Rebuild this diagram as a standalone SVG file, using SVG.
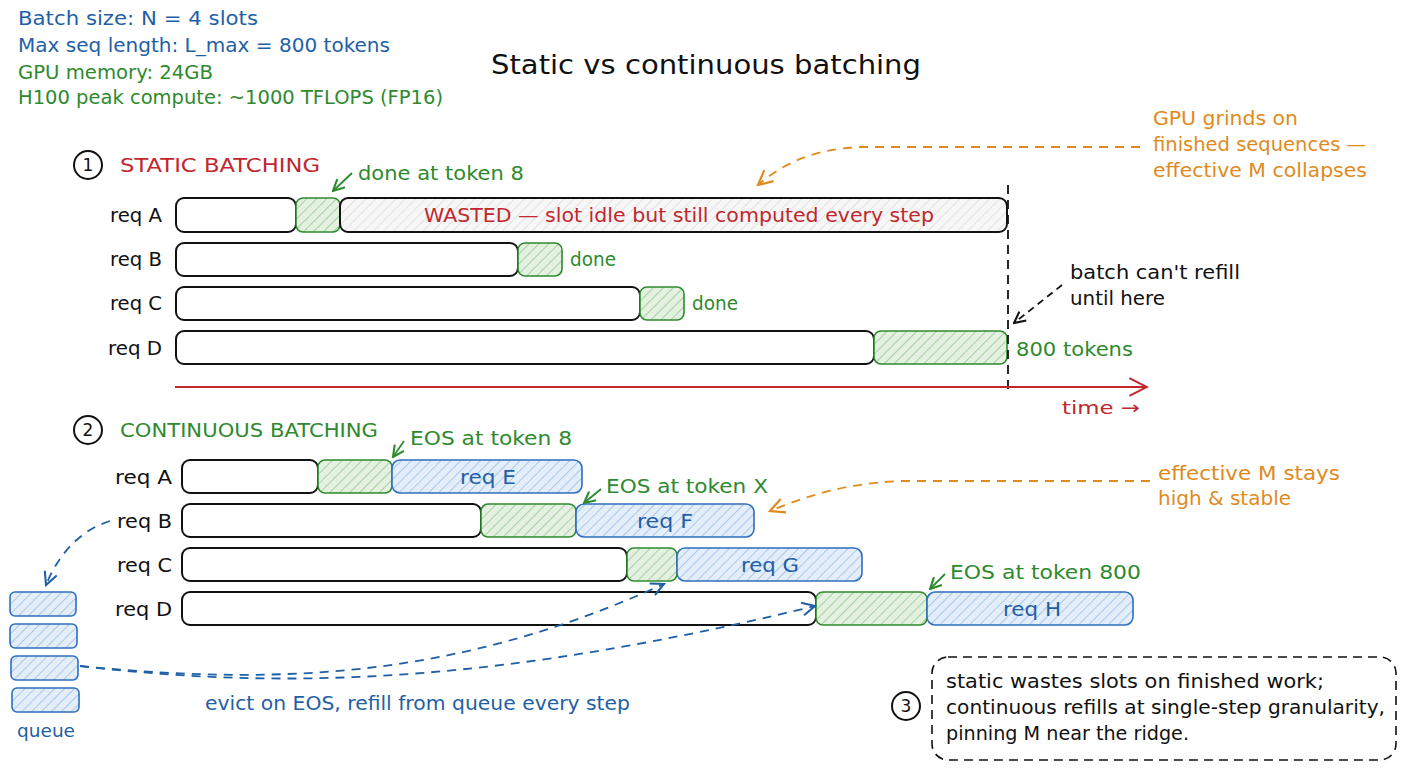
<svg xmlns="http://www.w3.org/2000/svg" width="1408" height="768" viewBox="0 0 1408 768">
<style>
text{font-family:"DejaVu Sans","Liberation Sans",Arial,sans-serif;font-size:19px;}
.blue{fill:#1f5fa6}.green{fill:#2e8a2e}.red{fill:#c0282d}.orange{fill:#e08a1e}.black{fill:#111}
.bar{fill:#fff;stroke:#111;stroke-width:2}
.gbar{fill:url(#hg);stroke:#2e8a2e;stroke-width:1.6}
.wbar{fill:url(#hw);stroke:#111;stroke-width:2}
.bbar{fill:url(#hb);stroke:#2f6fbf;stroke-width:1.6}
.num{fill:none;stroke:#111;stroke-width:2}
.c-black{fill:none;stroke:#111;stroke-width:1.8}
.c-green{fill:none;stroke:#2e8a2e;stroke-width:1.8}
.c-orange{fill:none;stroke:#e08a1e;stroke-width:1.8;stroke-dasharray:9 7}
.c-blue{fill:none;stroke:#1f5fa6;stroke-width:1.8;stroke-dasharray:9 7}
.c-red{fill:none;stroke:#c0282d;stroke-width:2}
.lbl{font-size:19px;fill:#111}
</style>
<defs>
<pattern id="hg" patternUnits="userSpaceOnUse" width="7" height="7" patternTransform="rotate(45)"><rect width="7" height="7" fill="#e4f1e1"/><line x1="0" y1="0" x2="0" y2="7" stroke="#8cc48a" stroke-width="1.4"/></pattern>
<pattern id="hw" patternUnits="userSpaceOnUse" width="7" height="7" patternTransform="rotate(45)"><rect width="7" height="7" fill="#f7f7f7"/><line x1="0" y1="0" x2="0" y2="7" stroke="#d4d4d4" stroke-width="1.2"/></pattern>
<pattern id="hb" patternUnits="userSpaceOnUse" width="7" height="7" patternTransform="rotate(45)"><rect width="7" height="7" fill="#e3eefa"/><line x1="0" y1="0" x2="0" y2="7" stroke="#92b8e2" stroke-width="1.4"/></pattern>
<marker id="ah-black" viewBox="0 0 10 10" refX="9" refY="5" markerWidth="14" markerHeight="14" markerUnits="userSpaceOnUse" orient="auto"><path d="M1,1 L9,5 L1,9" fill="none" stroke="#111" stroke-width="1.5"/></marker>
<marker id="ah-green" viewBox="0 0 10 10" refX="9" refY="5" markerWidth="14" markerHeight="14" markerUnits="userSpaceOnUse" orient="auto"><path d="M1,1 L9,5 L1,9" fill="none" stroke="#2e8a2e" stroke-width="1.5"/></marker>
<marker id="ah-orange" viewBox="0 0 10 10" refX="9" refY="5" markerWidth="18" markerHeight="18" markerUnits="userSpaceOnUse" orient="auto"><path d="M1,1 L9,5 L1,9" fill="none" stroke="#e08a1e" stroke-width="1.2"/></marker>
<marker id="ah-blue" viewBox="0 0 10 10" refX="9" refY="5" markerWidth="16" markerHeight="16" markerUnits="userSpaceOnUse" orient="auto"><path d="M1,1 L9,5 L1,9" fill="none" stroke="#1f5fa6" stroke-width="1.3"/></marker>
<marker id="ah-red" viewBox="0 0 10 10" refX="9" refY="5" markerWidth="22" markerHeight="22" markerUnits="userSpaceOnUse" orient="auto"><path d="M1,1 L9,5 L1,9" fill="none" stroke="#c0282d" stroke-width="0.9"/></marker>
</defs>
<rect width="1408" height="768" fill="#fff"/>

<g id="params">
<text x="18" y="25" class="blue" style="font-size:19px" textLength="240" lengthAdjust="spacingAndGlyphs">Batch size: N = 4 slots</text>
<text x="18" y="52" class="blue" style="font-size:19px" textLength="372" lengthAdjust="spacingAndGlyphs">Max seq length: L_max = 800 tokens</text>
<text x="18" y="79" class="green" style="font-size:19px" textLength="195" lengthAdjust="spacingAndGlyphs">GPU memory: 24GB</text>
<text x="18" y="104" class="green" style="font-size:19px" textLength="425" lengthAdjust="spacingAndGlyphs">H100 peak compute: ~1000 TFLOPS (FP16)</text>
</g>
<text id="title" x="491" y="74" class="black" style="font-size:27px" textLength="430" lengthAdjust="spacingAndGlyphs">Static vs continuous batching</text>

<g id="static-header">
<circle cx="88" cy="165" r="14" class="num"/>
<text x="88" y="171" text-anchor="middle" class="black" style="font-size:17px">1</text>
<text x="120" y="172" class="red" style="font-size:19px" textLength="200" lengthAdjust="spacingAndGlyphs">STATIC BATCHING</text>
</g>

<g id="static-reqA">
<text x="110" y="222" class="lbl" textLength="52" lengthAdjust="spacingAndGlyphs">req A</text>
<rect x="176" y="198" width="120" height="34" rx="8" class="bar"/>
<rect x="296" y="198" width="44" height="34" rx="7" class="gbar"/>
<rect x="340" y="198" width="667" height="34" rx="8" class="wbar"/>
<text x="424" y="222" class="red" style="font-size:20px" textLength="510" lengthAdjust="spacingAndGlyphs">WASTED — slot idle but still computed every step</text>
</g>
<g id="static-reqB">
<text x="110" y="266" class="lbl" textLength="52" lengthAdjust="spacingAndGlyphs">req B</text>
<rect x="176" y="243" width="342" height="33" rx="8" class="bar"/>
<rect x="518" y="243" width="44" height="33" rx="7" class="gbar"/>
<text x="570" y="266" class="green" textLength="46" lengthAdjust="spacingAndGlyphs">done</text>
</g>
<g id="static-reqC">
<text x="110" y="310" class="lbl" textLength="52" lengthAdjust="spacingAndGlyphs">req C</text>
<rect x="176" y="287" width="464" height="33" rx="8" class="bar"/>
<rect x="640" y="287" width="44" height="33" rx="7" class="gbar"/>
<text x="692" y="310" class="green" textLength="46" lengthAdjust="spacingAndGlyphs">done</text>
</g>
<g id="static-reqD">
<text x="108" y="355" class="lbl" textLength="54" lengthAdjust="spacingAndGlyphs">req D</text>
<rect x="176" y="331" width="698" height="33" rx="8" class="bar"/>
<rect x="874" y="331" width="133" height="33" rx="7" class="gbar"/>
<text x="1016" y="356" class="green" textLength="117" lengthAdjust="spacingAndGlyphs">800 tokens</text>
</g>

<g id="static-annotations">
<text x="358" y="180" class="green" textLength="166" lengthAdjust="spacingAndGlyphs">done at token 8</text>
<text x="1070" y="279" class="black" textLength="170" lengthAdjust="spacingAndGlyphs">batch can't refill</text>
<text x="1070" y="305" class="black" textLength="95" lengthAdjust="spacingAndGlyphs">until here</text>
<text x="1153" y="125" class="orange" textLength="145" lengthAdjust="spacingAndGlyphs">GPU grinds on</text>
<text x="1153" y="151" class="orange" textLength="213" lengthAdjust="spacingAndGlyphs">finished sequences —</text>
<text x="1153" y="177" class="orange" textLength="214" lengthAdjust="spacingAndGlyphs">effective M collapses</text>
<text x="1062" y="414" class="red" style="font-size:18px" textLength="78" lengthAdjust="spacingAndGlyphs">time →</text>
</g>

<g id="cont-header">
<circle cx="88" cy="430" r="14" class="num"/>
<text x="88" y="436" text-anchor="middle" class="black" style="font-size:17px">2</text>
<text x="120" y="437" class="green" style="font-size:19px" textLength="258" lengthAdjust="spacingAndGlyphs">CONTINUOUS BATCHING</text>
</g>

<g id="cont-reqA">
<text x="115" y="484" class="lbl" textLength="57" lengthAdjust="spacingAndGlyphs">req A</text>
<rect x="182" y="460" width="136" height="33" rx="8" class="bar"/>
<rect x="318" y="460" width="74" height="33" rx="7" class="gbar"/>
<rect x="392" y="460" width="190" height="33" rx="8" class="bbar"/>
<text x="460" y="484" class="blue" textLength="56" lengthAdjust="spacingAndGlyphs">req E</text>
</g>
<g id="cont-reqB">
<text x="117" y="528" class="lbl" textLength="55" lengthAdjust="spacingAndGlyphs">req B</text>
<rect x="182" y="504" width="299" height="33" rx="8" class="bar"/>
<rect x="481" y="504" width="95" height="33" rx="7" class="gbar"/>
<rect x="576" y="504" width="178" height="33" rx="8" class="bbar"/>
<text x="637" y="528" class="blue" textLength="56" lengthAdjust="spacingAndGlyphs">req F</text>
</g>
<g id="cont-reqC">
<text x="117" y="572" class="lbl" textLength="55" lengthAdjust="spacingAndGlyphs">req C</text>
<rect x="182" y="548" width="445" height="33" rx="8" class="bar"/>
<rect x="627" y="548" width="50" height="33" rx="7" class="gbar"/>
<rect x="677" y="548" width="185" height="33" rx="8" class="bbar"/>
<text x="741" y="572" class="blue" textLength="58" lengthAdjust="spacingAndGlyphs">req G</text>
</g>
<g id="cont-reqD">
<text x="115" y="616" class="lbl" textLength="57" lengthAdjust="spacingAndGlyphs">req D</text>
<rect x="182" y="592" width="634" height="33" rx="8" class="bar"/>
<rect x="816" y="592" width="111" height="33" rx="7" class="gbar"/>
<rect x="927" y="592" width="206" height="33" rx="8" class="bbar"/>
<text x="1003" y="616" class="blue" textLength="58" lengthAdjust="spacingAndGlyphs">req H</text>
</g>

<g id="cont-annotations">
<text x="410" y="445" class="green" textLength="162" lengthAdjust="spacingAndGlyphs">EOS at token 8</text>
<text x="606" y="493" class="green" textLength="162" lengthAdjust="spacingAndGlyphs">EOS at token X</text>
<text x="950" y="579" class="green" textLength="191" lengthAdjust="spacingAndGlyphs">EOS at token 800</text>
<text x="1158" y="480" class="orange" textLength="182" lengthAdjust="spacingAndGlyphs">effective M stays</text>
<text x="1158" y="505" class="orange" textLength="133" lengthAdjust="spacingAndGlyphs">high &amp; stable</text>
<text x="205" y="710" class="blue" textLength="425" lengthAdjust="spacingAndGlyphs">evict on EOS, refill from queue every step</text>
</g>

<g id="queue">
<rect x="10" y="592" width="66" height="24" rx="5" class="bbar"/>
<rect x="10" y="624" width="67" height="24" rx="5" class="bbar"/>
<rect x="11" y="656" width="67" height="24" rx="5" class="bbar"/>
<rect x="12" y="688" width="67" height="24" rx="5" class="bbar"/>
<text x="17" y="737" class="blue" style="font-size:18px" textLength="58" lengthAdjust="spacingAndGlyphs">queue</text>
</g>

<g id="note">
<rect x="932" y="657" width="464" height="103" rx="16" fill="none" stroke="#111" stroke-width="1.6" stroke-dasharray="9 6"/>
<circle cx="906" cy="706" r="14" class="num"/>
<text x="906" y="712" text-anchor="middle" class="black" style="font-size:17px">3</text>
<text x="946" y="688" class="black" textLength="378" lengthAdjust="spacingAndGlyphs">static wastes slots on finished work;</text>
<text x="946" y="714" class="black" textLength="439" lengthAdjust="spacingAndGlyphs">continuous refills at single-step granularity,</text>
<text x="946" y="740" class="black" textLength="243" lengthAdjust="spacingAndGlyphs">pinning M near the ridge.</text>
</g>

<g id="connectors">
<path d="M352,173 L333,191" class="c-green" marker-end="url(#ah-green)"/>
<path d="M1140,147 L860,147 C815,149 785,162 758,185" class="c-orange" marker-end="url(#ah-orange)"/>
<path d="M1008,185 L1008,390" fill="none" stroke="#111" stroke-width="1.8" stroke-dasharray="9 6"/>
<path d="M1062,285 L1014,323" class="c-black" stroke-dasharray="7 5" marker-end="url(#ah-black)"/>
<path d="M175,387 L1147,387" class="c-red" marker-end="url(#ah-red)"/>
<path d="M404,441 L393,457" class="c-green" marker-end="url(#ah-green)"/>
<path d="M601,489 L584,503" class="c-green" marker-end="url(#ah-green)"/>
<path d="M945,574 L930,589" class="c-green" marker-end="url(#ah-green)"/>
<path d="M1150,481 L900,481 C840,484 805,497 770,511" class="c-orange" marker-end="url(#ah-orange)"/>
<path d="M110,521 C80,530 58,555 46,585" class="c-blue" marker-end="url(#ah-blue)"/>
<path d="M80,666 C300,688 470,672 664,584" class="c-blue" marker-end="url(#ah-blue)"/>
<path d="M80,666 C300,692 510,680 815,606" class="c-blue" marker-end="url(#ah-blue)"/>
</g>
</svg>
